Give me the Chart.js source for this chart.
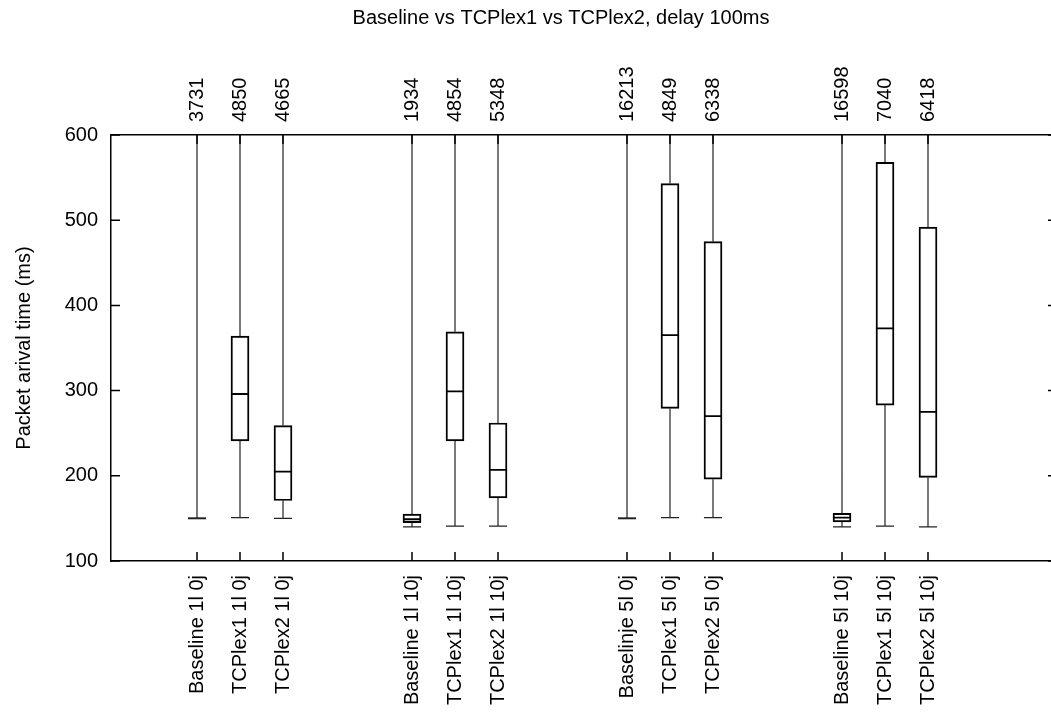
<!DOCTYPE html>
<html>
<head>
<meta charset="utf-8">
<script src="https://cdn.jsdelivr.net/npm/chart.js@4"></script>
<style>
    html, body { margin: 0; padding: 0; background: #fff; overflow: hidden; }
    #wrap { width: 1057px; height: 717px; }   /* right frame edge falls just off the page */
</style>
</head>
<body>
<div id="wrap"><canvas id="myChart"></canvas></div>
<script>
// box plot data
const labels = ['Baseline 1l 0j', 'TCPlex1 1l 0j', 'TCPlex2 1l 0j',
                'Baseline 1l 10j', 'TCPlex1 1l 10j', 'TCPlex2 1l 10j',
                'Baselinje 5l 0j', 'TCPlex1 5l 0j', 'TCPlex2 5l 0j',
                'Baseline 5l 10j', 'TCPlex1 5l 10j', 'TCPlex2 5l 10j'];
const positions = [1, 2, 3, 6, 7, 8, 11, 12, 13, 16, 17, 18];   // x slot of each box
const maxVals = [3731, 4850, 4665, 1934, 4854, 5348, 16213, 4849, 6338, 16598, 7040, 6418];
const minVals = [150, 151, 150, 140, 141, 141, 150, 151, 151, 140, 141, 140];
const q1Vals  = [150, 241, 171, 145, 241, 174, 150, 279, 196, 146, 283, 198];
const medVals = [150, 296, 205, 149, 299, 207, 150, 365, 270, 151, 373, 275];
const q3Vals  = [150, 364, 259, 155, 369, 262, 150, 543, 475, 156, 568, 492];

const titleText = 'Baseline vs TCPlex1 vs TCPlex2, delay 100ms';
const boxW = 0.42;   // box / cap width in x units
const fontSize = 20;
const fontFamily = "'Liberation Sans', Arial, sans-serif";

// whisker segments: min->q1, q3->max, and the cap at the min
const whiskerPts = [];
const medianPts = [];
positions.forEach((p, i) => {
    whiskerPts.push({x: p, y: minVals[i]}, {x: p, y: q1Vals[i]}, {x: p, y: null});
    whiskerPts.push({x: p, y: q3Vals[i]}, {x: p, y: maxVals[i]}, {x: p, y: null});
    whiskerPts.push({x: p - boxW / 2, y: minVals[i]}, {x: p + boxW / 2, y: minVals[i]}, {x: p, y: null});
    medianPts.push({x: p - boxW / 2, y: medVals[i]}, {x: p + boxW / 2, y: medVals[i]}, {x: p, y: null});
});

// gnuplot style ticks pointing into the plot, plus the page title
const inTicks = {
    id: 'inTicks',
    afterDraw(chart) {
        const {ctx, chartArea: a, scales} = chart;
        ctx.save();
        ctx.strokeStyle = '#000';
        ctx.lineWidth = 1.5;
        ctx.beginPath();
        scales.y.ticks.forEach((t, i) => {
            const py = scales.y.getPixelForTick(i);
            ctx.moveTo(a.left, py); ctx.lineTo(a.left + 9, py);
            ctx.moveTo(a.right, py); ctx.lineTo(a.right - 9, py);
        });
        scales.x.ticks.forEach((t, i) => {
            const px = scales.x.getPixelForTick(i);
            ctx.moveTo(px, a.bottom); ctx.lineTo(px, a.bottom - 9);
            ctx.moveTo(px, a.top); ctx.lineTo(px, a.top + 9);
        });
        ctx.stroke();

        // title sits a bit left of the plot centre, like gnuplot does
        ctx.fillStyle = '#000';
        ctx.font = `${fontSize}px ${fontFamily}`;
        ctx.textAlign = 'center';
        ctx.textBaseline = 'middle';
        ctx.fillText(titleText, 561, 18);
        ctx.restore();
    }
};

Chart.defaults.font.family = fontFamily;
Chart.defaults.font.size = fontSize;
Chart.defaults.color = '#000';

const slotTicks = scale => { scale.ticks = positions.map(v => ({value: v})); };

const myChart = new Chart(document.getElementById('myChart'), {
    type: 'bar',
    data: {
        datasets: [
            {
                label: 'boxes',
                data: positions.map((p, i) => ({x: p, y: [q1Vals[i], q3Vals[i]]})),
                backgroundColor: 'rgba(255,255,255,0)',
                borderColor: '#000',
                borderWidth: 1.3,
                borderSkipped: false,
                barThickness: 18,
                grouped: false
            },
            {
                type: 'line',
                label: 'whiskers',
                data: whiskerPts,
                borderColor: '#222',
                borderWidth: 1.2,
                pointRadius: 0,
                spanGaps: false
            },
            {
                type: 'line',
                label: 'medians',
                data: medianPts,
                borderColor: '#000',
                borderWidth: 1.8,
                pointRadius: 0,
                spanGaps: false
            }
        ]
    },
    options: {
        responsive: true,
        maintainAspectRatio: false,
        animation: false,
        layout: { padding: 0 },
        scales: {
            x: {
                type: 'linear',
                position: 'bottom',
                offset: false,
                min: -1,
                max: 21,
                afterBuildTicks: slotTicks,
                afterFit: s => { s.height = 156; },
                grid: { display: false, drawTicks: false },
                border: { display: true, color: '#000', width: 1.5 },
                ticks: {
                    autoSkip: false,
                    minRotation: 90,
                    maxRotation: 90,
                    padding: 14,
                    callback: v => labels[positions.indexOf(v)]
                }
            },
            x2: {
                type: 'linear',
                axis: 'x',
                position: 'top',
                offset: false,
                min: -1,
                max: 21,
                afterBuildTicks: slotTicks,
                afterFit: s => { s.height = 135; },
                grid: { display: false, drawTicks: false },
                border: { display: true, color: '#000', width: 1.5 },
                ticks: {
                    autoSkip: false,
                    minRotation: 90,
                    maxRotation: 90,
                    padding: 13,
                    labelOffset: fontSize * 1.2,   // top rotated labels sit one line left, shift back
                    callback: v => String(maxVals[positions.indexOf(v)])
                }
            },
            y: {
                min: 100,
                max: 600,
                afterFit: s => { s.width = 111; },
                grid: { display: false, drawTicks: false },
                border: { display: true, color: '#000', width: 1.5 },
                ticks: { stepSize: 100, padding: 13 },
                title: {
                    display: true,
                    text: 'Packet arival time (ms)',
                    padding: { top: 12, bottom: 0 }
                }
            }
        },
        plugins: {
            legend: { display: false },
            tooltip: { enabled: false },
            title: { display: false }
        }
    },
    plugins: [inTicks]
});
</script>
</body>
</html>
